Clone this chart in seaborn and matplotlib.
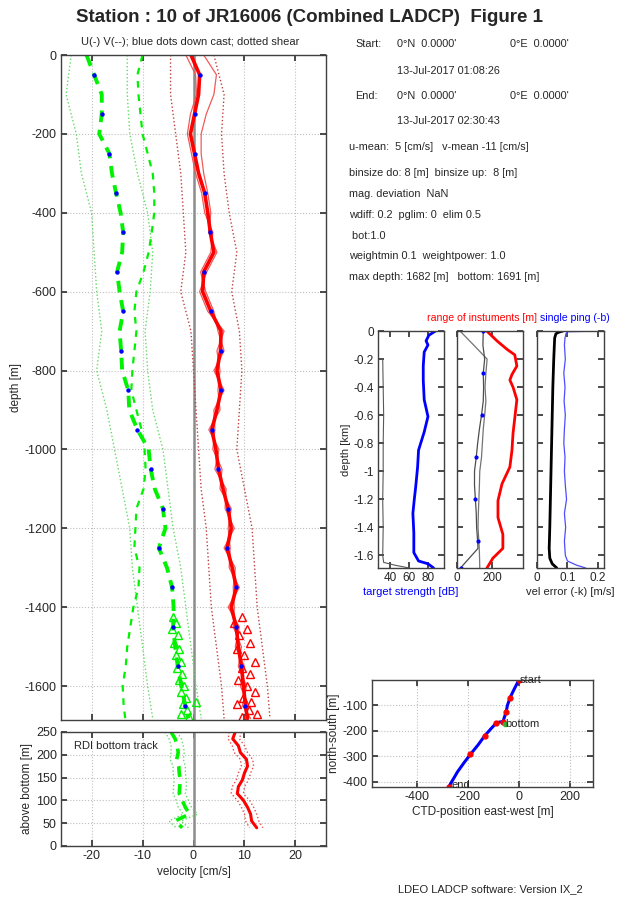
import numpy as np
import pandas as pd
import matplotlib
matplotlib.use("Agg")
import matplotlib.pyplot as plt
import seaborn as sns

# ---- data ----
# main velocity profiles, depth in m (negative down)
z = [0, -50, -100, -150, -200, -250, -300, -350, -400, -450, -500, -550, -600,
     -650, -700, -750, -800, -850, -900, -950, -1000, -1050, -1100, -1150,
     -1200, -1250, -1300, -1350, -1400, -1450, -1500, -1550, -1600, -1650, -1682]
u = [-0.5, 1.2, 1.0, 0.2, -0.6, 0.2, 1.0, 2.2, 2.8, 3.3, 4.0, 2.0, 1.8, 3.4,
     5.4, 5.3, 4.6, 5.4, 4.6, 3.6, 4.4, 4.9, 5.8, 6.8, 7.4, 6.6, 7.6, 8.4, 7.4,
     8.4, 8.8, 9.4, 9.8, 10.2, 10.6]
u_up = [2.0, 4.5, 4.0, 2.5, 1.5, 1.5, 2.0, 2.8, 3.4, 3.0, 4.6, 2.6, 1.2, 2.8,
        6.0, 4.6, 5.2, 4.8, 5.2, 3.0, 5.0, 4.2, 6.4, 6.2, 8.0, 6.0, 8.2, 7.8,
        8.0, 7.8, 9.4, 8.8, 10.4, 9.6, 11.2]
u_dn = [-1.5, 0.4, 0.6, -0.6, -1.2, -0.4, 0.4, 1.6, 2.2, 3.8, 3.4, 1.4, 2.4,
        4.0, 4.8, 6.0, 4.0, 6.0, 4.0, 4.2, 3.8, 5.6, 5.2, 7.4, 6.8, 7.2, 7.0,
        9.0, 6.8, 9.0, 8.2, 10.0, 9.2, 10.8, 10.0]
v = [-21.0, -19.5, -18.0, -18.0, -18.5, -16.5, -16.0, -15.2, -14.3, -13.8,
     -14.0, -15.0, -14.5, -13.8, -14.5, -14.2, -14.0, -12.8, -12.6, -11.0,
     -8.8, -8.4, -7.6, -6.0, -5.5, -6.8, -5.2, -4.2, -3.9, -4.0, -3.6, -3.1,
     -2.4, -1.6, -1.0]
v_up = [-10.0, -11.0, -10.8, -10.4, -10.0, -9.0, -8.0, -7.7, -7.7, -8.2, -8.8,
        -9.8, -11.2, -11.6, -11.2, -11.6, -12.0, -12.2, -11.2, -10.2, -9.6,
        -9.4, -9.8, -11.2, -11.4, -11.6, -10.6, -10.8, -11.8, -12.4, -13.0,
        -13.3, -13.9, -13.7, -13.4]

# dotted shear profiles (100 m steps)
zs = [0, -100, -200, -300, -400, -500, -600, -700, -800, -900, -1000, -1100,
      -1200, -1300, -1400, -1500, -1600, -1682]
u_sh_lo = [-4.5, -4.5, -3.5, -2.5, -2.0, -1.5, -2.5, -0.5, 0.0, 0.5, 1.0, 1.5,
           2.5, 3.0, 3.5, 4.5, 5.5, 6.0]
u_sh_hi = [4.0, 6.0, 5.5, 6.0, 7.0, 8.5, 7.5, 9.0, 9.5, 9.0, 8.5, 10.0, 11.5,
           12.0, 12.5, 13.5, 14.5, 15.0]
v_sh_lo = [-24.0, -25.0, -23.0, -22.0, -20.0, -19.5, -19.0, -18.0, -19.0,
           -17.0, -15.5, -14.0, -12.5, -12.0, -11.0, -10.0, -9.0, -8.0]
v_sh_hi = [-13.0, -13.0, -12.5, -11.0, -9.0, -8.0, -8.5, -9.5, -9.0, -8.0,
           -6.0, -5.0, -4.0, -2.5, -1.5, -0.5, 0.5, 1.5]

# bottom track velocities near the bottom (triangles)
bt_z = [-1425, -1440, -1455, -1470, -1490, -1505, -1520, -1540, -1555, -1570,
        -1585, -1600, -1615, -1630, -1640, -1645, -1660, -1672, -1678]
bt_v = [-4.0, -3.5, -4.2, -3.0, -3.8, -2.8, -3.5, -2.5, -3.2, -2.2, -2.8,
        -1.8, -2.5, -1.5, 0.5, -2.0, -1.2, -2.4, -0.8]
bt_u = [9.5, 8.0, 10.5, 9.0, 11.0, 8.5, 10.0, 12.0, 9.5, 11.0, 8.8, 10.5,
        12.0, 9.8, 11.2, 8.5, 10.8, 12.5, 9.5]

# RDI bottom track panel (height above bottom in m)
hab = [250, 235, 220, 205, 190, 175, 160, 145, 130, 115, 100, 85, 70, 55, 40]
u_rdi = [8.2, 7.7, 8.8, 9.2, 10.4, 10.6, 10.0, 9.6, 8.8, 8.6, 9.8, 10.6, 11.2,
         11.4, 12.4]
v_rdi = [-4.4, -3.6, -3.2, -3.0, -3.3, -2.9, -2.8, -2.6, -2.7, -2.8, -2.2,
         -1.6, -0.8, -3.6, -2.2]
u_rdi_lo = [7.0, 6.8, 7.6, 8.0, 9.2, 9.4, 8.8, 8.4, 7.6, 7.4, 8.6, 9.4, 10.0,
            10.2, 11.0]
u_rdi_hi = [9.4, 9.0, 10.0, 10.6, 11.6, 11.8, 11.2, 10.8, 10.0, 9.8, 11.0,
            11.8, 12.4, 12.8, 13.6]
v_rdi_lo = [-5.6, -4.8, -4.4, -4.4, -4.6, -4.0, -4.0, -3.8, -3.9, -4.0, -3.4,
            -3.0, -2.0, -4.8, -3.4]
v_rdi_hi = [-3.2, -2.4, -2.0, -1.8, -2.0, -1.6, -1.6, -1.4, -1.4, -1.6, -1.0,
            -0.4, 0.8, -2.4, -1.0]

# small panels, depth in km
ts_z = [0, -0.03, -0.07, -0.1, -0.15, -0.25, -0.35, -0.49, -0.61, -0.72,
        -0.85, -0.97, -1.11, -1.2, -1.3, -1.44, -1.58, -1.64, -1.66, -1.69]
ts = [88, 81, 78, 80, 76, 75, 75, 76, 80, 76, 70, 69, 67, 65.5, 64, 65, 65,
      70, 80, 86]
ts_bg_z = [-0.2, -0.4, -0.6, -0.8, -1.0, -1.2, -1.4, -1.6, -1.65, -1.67, -1.69]
ts_bg = [32, 32.5, 33, 32.5, 32.5, 32, 32.5, 32, 33, 45, 60]

rng_z = [0, -0.07, -0.13, -0.17, -0.25, -0.31, -0.35, -0.40, -0.49, -0.61,
         -0.73, -0.85, -0.97, -1.09, -1.21, -1.33, -1.45, -1.55, -1.62, -1.69]
rng = [170, 228, 285, 330, 342, 314, 302, 320, 342, 331, 320, 314, 302, 257,
       234, 234, 262, 262, 205, 171]
cast_z = [0, -0.1, -0.2, -0.3, -0.4, -0.5, -0.6, -0.7, -0.8, -0.9, -1.0, -1.1,
          -1.2, -1.3, -1.4, -1.5, -1.55, -1.62, -1.69]
rng_dn = [150, 148, 158, 150, 152, 150, 140, 128, 118, 110, 100, 100, 105,
          110, 112, 118, 120, 70, 20]
rng_up = [17, 95, 172, 165, 160, 165, 158, 150, 145, 140, 130, 128, 125, 122,
          120, 125, 127, 129, 130]

err_z = [0, -0.01, -0.02, -0.05, -0.2, -0.4, -0.6, -0.8, -1.0, -1.2, -1.4,
         -1.55, -1.62, -1.66, -1.69]
err_k = [0.085, 0.07, 0.062, 0.058, 0.055, 0.052, 0.05, 0.048, 0.046, 0.044,
         0.042, 0.04, 0.042, 0.05, 0.065]
ping_z = [0, -0.005, -0.02, -0.05, -0.1, -0.2, -0.3, -0.4, -0.5, -0.6, -0.7,
          -0.8, -0.9, -1.0, -1.1, -1.2, -1.3, -1.4, -1.5, -1.6, -1.64, -1.67,
          -1.69]
err_b = [0.22, 0.1, 0.095, 0.092, 0.09, 0.093, 0.088, 0.092, 0.089, 0.093,
         0.09, 0.088, 0.092, 0.09, 0.093, 0.097, 0.09, 0.094, 0.09, 0.093,
         0.1, 0.13, 0.16]

# CTD track
trk_x = [0, -18, -35, -45, -50, -58, -62, -75, -88, -110, -133, -160, -190,
         -215, -240, -275]
trk_y = [0, -35, -70, -100, -125, -150, -163, -165, -168, -192, -218, -255,
         -292, -325, -360, -420]

sns.set_theme(style="ticks")
plt.rcParams['font.family'] = ['Liberation Sans', 'DejaVu Sans']
plt.rcParams['axes.unicode_minus'] = False

W, H = 621, 900
fig = plt.figure(figsize=(W / 100, H / 100), dpi=100)


def box(x0, y0, x1, y1):  # pixel box -> figure fraction rect
    return [x0 / W, 1 - y1 / H, (x1 - x0) / W, (y1 - y0) / H]


def style(ax, fs=8.5):
    ax.tick_params(direction='in', top=True, right=True, length=4,
                   labelsize=fs, color='0.2', pad=3)
    ax.grid(True, linestyle=':', color='0.75', lw=0.8)
    for s in ax.spines.values():
        s.set_color('0.25')
        s.set_linewidth(1.0)


def prof(ax, x, y, **kw):
    sns.lineplot(x=x, y=y, sort=False, estimator=None, ax=ax, **kw)


RED = (1.0, 0.0, 0.0)
GRN = (0.0, 0.95, 0.0)

# ---- main velocity panel ----
ax = fig.add_axes(box(61, 55, 326, 720))
ax.axvline(0, color='0.55', lw=1.8, zorder=1)
prof(ax, u_sh_lo, zs, color=(0.75, 0.25, 0.25), lw=1.0, linestyle=':')
prof(ax, u_sh_hi, zs, color=(0.75, 0.25, 0.25), lw=1.0, linestyle=':')
prof(ax, v_sh_lo, zs, color=(0.4, 0.85, 0.4), lw=1.0, linestyle=':')
prof(ax, v_sh_hi, zs, color=(0.4, 0.85, 0.4), lw=1.0, linestyle=':')
prof(ax, u_up, z, color=(0.95, 0.35, 0.35), lw=0.9)
prof(ax, u_dn, z, color=(0.95, 0.35, 0.35), lw=0.9)
prof(ax, v_up, z, color=GRN, lw=1.6, linestyle=(0, (3, 3)))
prof(ax, u, z, color=RED, lw=2.6)
prof(ax, v, z, color=GRN, lw=2.8, linestyle=(0, (3, 2)))
ax.plot(bt_v, bt_z, '^', mfc='none', mec=GRN, ms=6, mew=1.0)
ax.plot(bt_u, bt_z, '^', mfc='none', mec=RED, ms=6, mew=1.0)
ax.plot(v[1::2], z[1::2], 'o', color='blue', ms=2.2)
ax.plot(u[1::2], z[1::2], 'o', color='blue', ms=2.2)
ax.set_xlim(-26, 26)
ax.set_ylim(-1686, 0)
ax.set_xticks([-20, -10, 0, 10, 20])
ax.set_xticklabels([])
ax.set_yticks(np.arange(-1600, 1, 200))
ax.set_xlabel('')
ax.set_ylabel('depth [m]', fontsize=8.5, labelpad=2)
style(ax, 9)
fig.text(190 / W, 1 - 42 / H, 'U(-) V(--); blue dots down cast; dotted shear',
         ha='center', va='center', fontsize=8)

# ---- RDI bottom track ----
ab = fig.add_axes(box(61, 732, 326, 846))
ab.axvline(0, color='0.55', lw=1.8, zorder=1)
prof(ab, u_rdi_lo, hab, color=(0.9, 0.3, 0.3), lw=1.0, linestyle=':')
prof(ab, u_rdi_hi, hab, color=(0.9, 0.3, 0.3), lw=1.0, linestyle=':')
prof(ab, v_rdi_lo, hab, color=(0.4, 0.85, 0.4), lw=1.0, linestyle=':')
prof(ab, v_rdi_hi, hab, color=(0.4, 0.85, 0.4), lw=1.0, linestyle=':')
prof(ab, u_rdi, hab, color=RED, lw=2.2)
prof(ab, v_rdi, hab, color=GRN, lw=2.6, linestyle=(0, (3, 2)))
ab.set_xlim(-26, 26)
ab.set_ylim(0, 250)
ab.set_xticks([-20, -10, 0, 10, 20])
ab.set_yticks([0, 50, 100, 150, 200, 250])
ab.set_xlabel('velocity [cm/s]', fontsize=8.5, labelpad=3)
ab.set_ylabel('above bottom [m]', fontsize=8.5, labelpad=2)
ab.text(0.05, 0.88, 'RDI bottom track', transform=ab.transAxes, fontsize=8,
        va='center')
style(ab, 9)

# ---- title and info text ----
fig.text(310 / W, 1 - 18 / H,
         'Station : 10 of JR16006 (Combined LADCP)  Figure 1',
         ha='center', va='center', fontsize=13.5, fontweight='bold')
info = [
    (355, 44, 'Start:'), (397, 44, '0°N  0.0000\''), (510, 44, '0°E  0.0000\''),
    (397, 71, '13-Jul-2017 01:08:26'),
    (355, 96, 'End:'), (397, 96, '0°N  0.0000\''), (510, 96, '0°E  0.0000\''),
    (397, 121, '13-Jul-2017 02:30:43'),
    (349, 147, 'u-mean:  5 [cm/s]   v-mean -11 [cm/s]'),
    (349, 173, 'binsize do: 8 [m]  binsize up:  8 [m]'),
    (349, 194, 'mag. deviation  NaN'),
    (349, 215, 'wdiff: 0.2  pglim: 0  elim 0.5'),
    (349, 236, ' bot:1.0'),
    (349, 256, 'weightmin 0.1  weightpower: 1.0'),
    (349, 277, 'max depth: 1682 [m]   bottom: 1691 [m]'),
]
for px, py, s in info:
    fig.text(px / W, 1 - py / H, s, ha='left', va='center', fontsize=7.8)

# ---- small diagnostic panels ----
p1 = fig.add_axes(box(378, 331, 444, 568))
prof(p1, ts_bg, ts_bg_z, color='0.35', lw=0.8)
prof(p1, ts, ts_z, color='blue', lw=2.0)
p1.set_xlim(27, 97)
p1.set_xticks([40, 60, 80])
p1.set_ylabel('depth [km]', fontsize=8, labelpad=2)
p1.set_xlabel('target strength [dB]', fontsize=8, color='blue', labelpad=2)

p2 = fig.add_axes(box(457, 331, 523, 568))
prof(p2, rng_up, cast_z, color='0.45', lw=0.9)
prof(p2, rng_dn, cast_z, color='0.3', lw=0.9)
p2.plot(rng_dn[::3], cast_z[::3], 'o', color='blue', ms=2)
prof(p2, rng, rng_z, color=RED, lw=2.0)
p2.set_xlim(0, 377)
p2.set_xticks([0, 200])
p2.set_ylabel('')
p2.set_xlabel('')

p3 = fig.add_axes(box(537, 331, 604, 568))
prof(p3, err_b, ping_z, color=(0.3, 0.3, 1.0), lw=0.9)
prof(p3, err_k, err_z, color='black', lw=2.0)
p3.set_xlim(0, 0.22)
p3.set_xticks([0, 0.1, 0.2])
p3.set_xticklabels(['0', '0.1', '0.2'])
p3.set_ylabel('')
p3.set_xlabel('vel error (-k) [m/s]', fontsize=8, labelpad=2)

for p in (p1, p2, p3):
    p.set_ylim(-1.69, 0)
    p.set_yticks(np.round(np.arange(-1.6, 0.01, 0.2), 1))
    style(p, 8.5)
    p.grid(False)
p1.set_yticklabels(['-1.6', '-1.4', '-1.2', '-1', '-0.8', '-0.6', '-0.4',
                    '-0.2', '0'])
p2.set_yticklabels([])
p3.set_yticklabels([])

# the two panel headers touch in the original; kept just apart here
fig.text(537 / W, 1 - 318 / H, 'range of instuments [m]', color='red',
         ha='right', va='center', fontsize=7.6)
fig.text(540 / W, 1 - 318 / H, 'single ping (-b)', color='blue',
         ha='left', va='center', fontsize=7.6)

# ---- CTD track ----
pt = fig.add_axes(box(372, 680, 593, 787))
prof(pt, trk_x, trk_y, color='blue', lw=2.2)
pt.plot([trk_x[i] for i in (0, 2, 4, 6, 8, 10, 12, 15)],
        [trk_y[i] for i in (0, 2, 4, 6, 8, 10, 12, 15)],
        'o', color='red', ms=3.5)
pt.plot([-55], [-172], 'o', color=(0.2, 0.7, 0.2), ms=3)
pt.text(2, 0, 'start', fontsize=8, va='center')
pt.text(-52, -172, 'bottom', fontsize=8, va='center')
pt.text(-265, -412, 'end', fontsize=8, va='center')
pt.set_xlim(-575, 290)
pt.set_ylim(-420, 0)
pt.set_xticks([-400, -200, 0, 200])
pt.set_yticks([-400, -300, -200, -100])
pt.set_xlabel('CTD-position east-west [m]', fontsize=8.5, labelpad=2)
pt.set_ylabel('north-south [m]', fontsize=8.5, labelpad=2)
style(pt, 9)

fig.text(490 / W, 1 - 889 / H, 'LDEO LADCP software: Version IX_2',
         ha='center', va='center', fontsize=8)

fig.savefig('out.png', dpi=100, facecolor='white')
